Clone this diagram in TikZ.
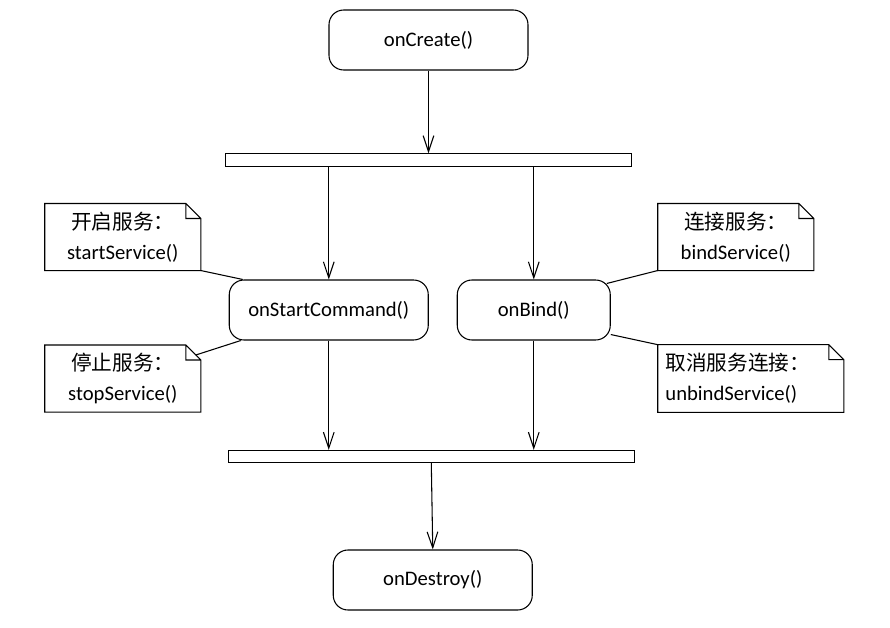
\documentclass[tikz,border=0pt]{standalone}
\usepackage{fontspec}
\setmainfont{Carlito}
\newfontfamily\cjk{Noto Sans CJK SC}
\usetikzlibrary{arrows.meta, positioning}
\newcommand*{\notebox}[1]{\draw (#1.north west) -- ([xshift=-11.25pt]#1.north east) -- ([yshift=-11.25pt]#1.north east) -- (#1.south east) -- (#1.south west) -- cycle ([xshift=-11.25pt]#1.north east) |- ([yshift=-11.25pt]#1.north east);}

\begin{document}
\begin{tikzpicture}[
        x=0.75pt, y=-0.75pt, on grid, line width=0.8pt,
        >={Straight Barb[length=12pt, width=8pt]},
        font=\fontsize{15.5}{22.5}\selectfont,
        state/.style={draw, rounded corners=11pt, minimum width=149.25pt, minimum height=45pt, inner sep=0pt},
        bar/.style={draw, minimum width=304.5pt, minimum height=9.25pt, inner sep=0pt},
        note/.style={minimum width=116.25pt, minimum height=49.5pt, align=center, inner sep=0pt},
        ]
        \useasboundingbox (0,0) rectangle (890,628);
        \node[state]                 (create) at (428.5,40)                         {onCreate()};
        \node[bar]                   (bar1)   [below=90pt of create]                {};
        \node[state]                 (start)  [below left=112.5pt and 74.8pt of bar1] {onStartCommand()};
        \node[state, minimum width=114.75pt] (bind) [right=153.75pt of start]    {onBind()};
        \node[bar]                   (bar2)   [below right=109.9pt and 76.9pt of start] {};
        \node[state]                 (destroy) [below=92.6pt of bar2, xshift=1.1pt] {onDestroy()};

        \node[note] (n_start)  [above left=54.75pt and 154.5pt of start]  {{\cjk 开启服务：}\\startService()};
        \node[note] (n_stop)   [below left=51.4pt and 154.5pt of start]   {{\cjk 停止服务：}\\stopService()};
        \node[note] (n_bind)   [above right=54.75pt and 151.5pt of bind]  {{\cjk 连接服务：}\\bindService()};
        \node[note, minimum width=138.75pt, minimum height=50pt, align=left, text width=128pt]
                    (n_unbind) [below right=51.4pt and 162.75pt of bind]  {{\cjk 取消服务连接：}\\unbindService()};
        \notebox{n_start} \notebox{n_stop} \notebox{n_bind} \notebox{n_unbind}

        \path[->] (create.south) edge (bar1.north)
        (bar1.south -| start.north) edge (start.north)
        (bar1.south -| bind.north) edge (bind.north)
        (start.south) edge (start.south |- bar2.north)
        (bind.south) edge (bind.south |- bar2.north)
        (bar2.south) edge (destroy.north);

        \draw (n_start.south east) -- ([xshift=10.5pt]start.north west);
        \draw ([xshift=-3.75pt, yshift=-7.5pt]n_stop.north east) -- ([xshift=9pt]start.south west);
        \draw (n_bind.south west) -- ([xshift=-3pt, yshift=-3pt]bind.north east);
        \draw (n_unbind.north west) -- ([yshift=4.5pt]bind.south east);
      \end{tikzpicture}
\end{document}
